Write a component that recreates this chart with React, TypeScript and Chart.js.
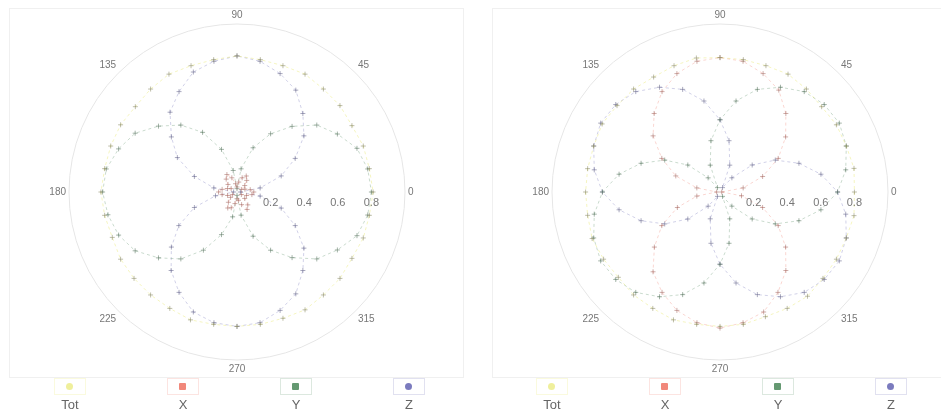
import React, { useEffect, useRef } from "react";
import { Chart, registerables } from "chart.js";

Chart.register(...registerables);

// Angles (degrees) at which the samples were taken
const ANGLES = [0, 10, 20, 30, 40, 50, 60, 70, 80, 90, 100, 110, 120, 130, 140, 150, 160, 170, 180, 190, 200, 210, 220, 230, 240, 250, 260, 270, 280, 290, 300, 310, 320, 330, 340, 350];
const ANGLE_TICKS = [0, 45, 90, 135, 180, 225, 270, 315];
const RADIAL_TICKS = [0.2, 0.4, 0.6, 0.8];
const SERIES_NAMES = ["Tot", "X", "Y", "Z"];
const SERIES_COLORS = ["#e2e24a", "#ee6a5a", "#3f7f4f", "#5a5aae"];

// Left pattern
const LEFT_TOT = [0.81, 0.8, 0.8, 0.79, 0.8, 0.8, 0.81, 0.8, 0.8, 0.81, 0.8, 0.8, 0.81, 0.8, 0.79, 0.8, 0.8, 0.8, 0.81, 0.8, 0.79, 0.8, 0.8, 0.8, 0.8, 0.81, 0.8, 0.8, 0.8, 0.8, 0.81, 0.8, 0.8, 0.79, 0.8, 0.8];
const LEFT_X = [0.1, 0.08, 0.05, 0.03, 0.06, 0.09, 0.11, 0.09, 0.06, 0.03, 0.05, 0.09, 0.12, 0.1, 0.07, 0.04, 0.06, 0.09, 0.11, 0.09, 0.06, 0.03, 0.05, 0.08, 0.11, 0.1, 0.07, 0.04, 0.05, 0.08, 0.12, 0.1, 0.06, 0.03, 0.06, 0.09];
const LEFT_Y = [0.8, 0.79, 0.76, 0.69, 0.62, 0.51, 0.4, 0.28, 0.14, 0.02, 0.13, 0.27, 0.41, 0.52, 0.61, 0.7, 0.75, 0.79, 0.8, 0.78, 0.75, 0.7, 0.61, 0.52, 0.4, 0.27, 0.15, 0.02, 0.14, 0.28, 0.4, 0.51, 0.62, 0.69, 0.76, 0.79];
const LEFT_Z = [0.02, 0.14, 0.28, 0.4, 0.52, 0.61, 0.7, 0.75, 0.79, 0.81, 0.79, 0.76, 0.69, 0.62, 0.51, 0.41, 0.27, 0.14, 0.02, 0.13, 0.27, 0.4, 0.51, 0.61, 0.69, 0.76, 0.79, 0.8, 0.79, 0.75, 0.7, 0.61, 0.52, 0.4, 0.28, 0.14];

// Right pattern
const RIGHT_TOT = [0.8, 0.81, 0.8, 0.8, 0.79, 0.8, 0.81, 0.8, 0.8, 0.8, 0.81, 0.8, 0.79, 0.8, 0.8, 0.81, 0.8, 0.8, 0.8, 0.8, 0.81, 0.8, 0.79, 0.8, 0.8, 0.81, 0.8, 0.8, 0.8, 0.79, 0.8, 0.81, 0.8, 0.8, 0.8, 0.81];
const RIGHT_X = [0.01, 0.14, 0.27, 0.4, 0.51, 0.61, 0.7, 0.75, 0.79, 0.8, 0.79, 0.75, 0.69, 0.61, 0.52, 0.4, 0.28, 0.14, 0.02, 0.14, 0.27, 0.4, 0.51, 0.62, 0.69, 0.75, 0.79, 0.81, 0.79, 0.76, 0.69, 0.61, 0.51, 0.4, 0.27, 0.13];
const RIGHT_Y = [0.7, 0.76, 0.8, 0.82, 0.81, 0.78, 0.72, 0.65, 0.55, 0.43, 0.31, 0.17, 0.03, 0.11, 0.25, 0.38, 0.5, 0.61, 0.7, 0.76, 0.8, 0.82, 0.81, 0.78, 0.72, 0.65, 0.55, 0.43, 0.31, 0.17, 0.03, 0.11, 0.25, 0.38, 0.5, 0.61];
const RIGHT_Z = [0.7, 0.61, 0.5, 0.38, 0.25, 0.11, 0.03, 0.17, 0.31, 0.43, 0.55, 0.65, 0.72, 0.78, 0.81, 0.82, 0.8, 0.76, 0.7, 0.61, 0.5, 0.38, 0.25, 0.11, 0.03, 0.17, 0.31, 0.43, 0.55, 0.65, 0.72, 0.78, 0.81, 0.82, 0.8, 0.76];

const LABEL_STEP = 5;

function rgb(hex: string) {
  const n = parseInt(hex.slice(1), 16);
  return [(n >> 16) & 255, (n >> 8) & 255, n & 255];
}
function hexA(hex: string, a: number) {
  const [r, g, b] = rgb(hex);
  return `rgba(${r},${g},${b},${a})`;
}
// series colour blended towards grey (markers look greyish in the reference)
function greyed(hex: string, t: number, a: number) {
  const [r, g, b] = rgb(hex);
  const m = (v: number) => Math.round(v * (1 - t) + 110 * t);
  return `rgba(${m(r)},${m(g)},${m(b)},${a})`;
}

// Radar categories run clockwise from the right; polar angles run counter-clockwise.
function buildLabels() {
  const out: string[] = [];
  for (let k = 0; k < 360 / LABEL_STEP; k++) {
    const theta = (360 - k * LABEL_STEP) % 360;
    out.push(ANGLE_TICKS.includes(theta) ? String(theta) : "");
  }
  return out;
}
function buildData(values: number[]) {
  const out: (number | null)[] = [];
  for (let k = 0; k < 360 / LABEL_STEP; k++) {
    const theta = (360 - k * LABEL_STEP) % 360;
    const i = ANGLES.indexOf(theta);
    out.push(i >= 0 ? values[i] : null);
  }
  return out;
}

const radialTickPlugin = {
  id: "radialTickLabels",
  afterDraw(chart: any) {
    const scale = chart.scales.r;
    const ctx = chart.ctx;
    ctx.save();
    ctx.font = "11px 'Liberation Sans', Arial, sans-serif";
    ctx.fillStyle = "#777";
    ctx.textAlign = "center";
    ctx.textBaseline = "middle";
    RADIAL_TICKS.forEach((v) => {
      const d = scale.getDistanceFromCenterForValue(v);
      ctx.fillText(v.toFixed(1), scale.xCenter + d, scale.yCenter + 11);
    });
    ctx.restore();
  },
};

function PolarChart({ series }: { series: number[][] }) {
  const ref = useRef<HTMLCanvasElement>(null);
  useEffect(() => {
    if (!ref.current) return;
    const chart = new Chart(ref.current, {
      type: "radar",
      data: {
        labels: buildLabels(),
        datasets: series.map((vals, i) => ({
          label: SERIES_NAMES[i],
          data: buildData(vals),
          spanGaps: true,
          fill: false,
          borderColor: hexA(SERIES_COLORS[i], i === 0 ? 0.35 : 0.28),
          borderWidth: 1,
          borderDash: [3, 3],
          pointStyle: "cross",
          pointRadius: 2.5,
          pointBorderWidth: 1,
          pointBorderColor: greyed(SERIES_COLORS[i], i === 0 ? 0.75 : 0.55, 0.55),
          pointBackgroundColor: greyed(SERIES_COLORS[i], 0.5, 0.55),
        })),
      },
      options: {
        animation: false,
        responsive: false,
        layout: { padding: { top: 0, bottom: 4, left: 0, right: 0 } },
        plugins: { legend: { display: false }, tooltip: { enabled: false } },
        scales: {
          r: {
            min: 0,
            max: 1,
            startAngle: 90,
            ticks: { display: false, stepSize: 0.2 },
            grid: {
              circular: true,
              color: (c: any) => (c.tick && Math.abs(c.tick.value - 1) < 1e-6 ? "#e6e6e6" : "rgba(0,0,0,0)"),
            },
            angleLines: { display: false },
            pointLabels: {
              color: "#777",
              padding: 3,
              font: { size: 10, family: "'Liberation Sans', Arial, sans-serif" },
            },
          },
        },
      },
      plugins: [radialTickPlugin],
    } as any);
    return () => chart.destroy();
  }, []);
  return <canvas ref={ref} width={455} height={370} style={{ display: "block" }} />;
}

function Legend({ left }: { left: number }) {
  return (
    <>
      {SERIES_NAMES.map((name, i) => {
        const cx = left + i * 113;
        const c = SERIES_COLORS[i];
        return (
          <div key={name} style={{ position: "absolute", left: cx - 30, top: 377, width: 60, height: 40 }}>
            <div
              style={{
                position: "absolute",
                left: 14,
                top: 1,
                width: 32,
                height: 17,
                border: `1px solid ${hexA(c, 0.18)}`,
                boxSizing: "border-box",
              }}
            />
            <div
              style={{
                position: "absolute",
                left: 26,
                top: 6,
                width: 7,
                height: 7,
                borderRadius: i === 0 || i === 3 ? "50%" : "1px",
                background: hexA(c, i === 0 ? 0.55 : 0.8),
              }}
            />
            <div
              style={{
                position: "absolute",
                left: 0,
                top: 20,
                width: 60,
                textAlign: "center",
                font: "13px 'Liberation Sans', Arial, sans-serif",
                color: "#666",
              }}
            >
              {name}
            </div>
          </div>
        );
      })}
    </>
  );
}

export default function App() {
  return (
    <div style={{ position: "absolute", left: 0, top: 0, width: 941, height: 420, background: "#fff", overflow: "hidden" }}>
      <div style={{ position: "absolute", left: 9, top: 8, width: 455, height: 370, border: "1px solid #f0f0f0", boxSizing: "border-box" }}>
        <PolarChart series={[LEFT_TOT, LEFT_X, LEFT_Y, LEFT_Z]} />
      </div>
      <div style={{ position: "absolute", left: 492, top: 8, width: 455, height: 370, border: "1px solid #f0f0f0", boxSizing: "border-box" }}>
        <PolarChart series={[RIGHT_TOT, RIGHT_X, RIGHT_Y, RIGHT_Z]} />
      </div>
      <Legend left={70} />
      <Legend left={552} />
    </div>
  );
}
